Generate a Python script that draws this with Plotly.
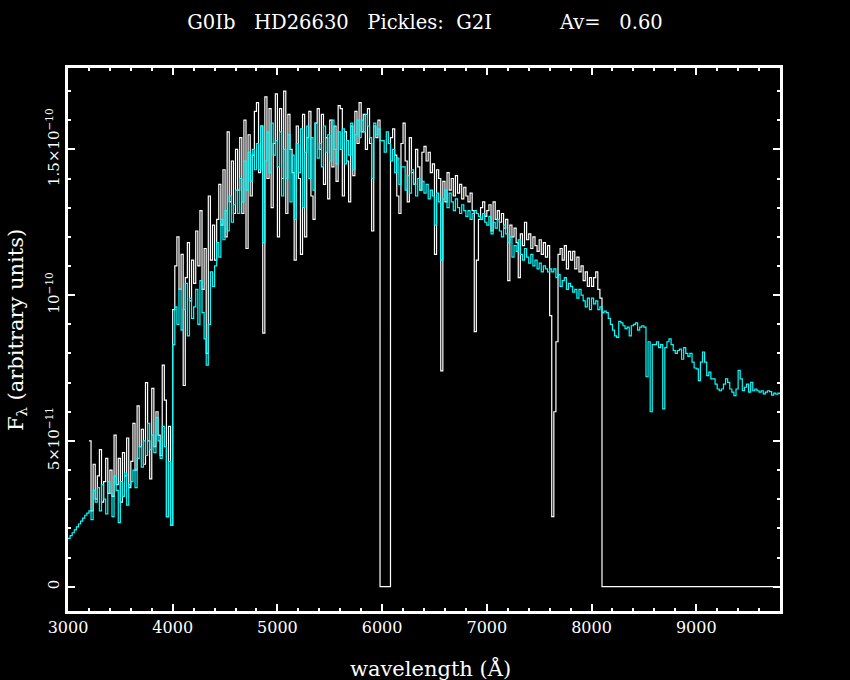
import numpy as np
import plotly.graph_objects as go

# ---------------- data (flux in units of 1e-11, arbitrary) ----------------
# Observed spectrum (white): sampled every 20 A from 3200 to 8080 A
obs_wl_start, obs_wl_stop, obs_wl_step = 3200, 8100, 20
obs_flux = [
    # 3200-3380
    5.0, 2.6, 4.2, 3.0, 3.8, 4.7, 2.9, 3.6, 4.4, 3.2,
    # 3400-3580
    4.0, 3.1, 5.2, 3.5, 4.4, 2.9, 4.6, 3.8, 5.1, 3.4,
    # 3600-3780
    4.3, 5.6, 4.0, 6.2, 4.8, 5.4, 4.2, 7.0, 5.0, 3.7,
    # 3800-3980
    6.8, 4.8, 6.0, 5.2, 4.5, 7.6, 6.4, 2.4, 5.5, 2.1,
    # 4000-4180
    9.5, 11.0, 12.0, 10.2, 11.4, 6.9, 10.6, 11.8, 9.8, 11.2,
    # 4200-4380
    10.4, 12.2, 11.0, 12.9, 10.2, 11.6, 8.0, 13.4, 11.2, 12.4,
    # 4400-4580
    11.2, 12.6, 13.8, 12.4, 14.3, 12.0, 15.6, 13.2, 14.6, 12.8,
    # 4600-4780
    15.0, 13.6, 15.4, 12.8, 16.0, 11.6, 15.5, 13.4, 14.8, 16.3,
    # 4800-4980
    16.6, 14.2, 15.8, 8.7, 16.8, 14.0, 16.4, 13.0, 15.2, 16.9,
    # 5000-5180
    12.0, 16.4, 14.0, 17.0, 12.8, 16.2, 15.0, 14.2, 11.2, 15.8,
    # 5200-5380
    14.0, 11.4, 16.2, 12.0, 15.4, 16.3, 13.4, 12.6, 15.9, 16.4,
    # 5400-5580
    15.0, 16.2, 13.8, 15.4, 13.3, 16.0, 14.4, 15.8, 13.9, 16.5,
    # 5600-5780
    16.4, 13.4, 15.6, 14.6, 13.2, 15.8, 14.1, 16.3, 15.2, 16.6,
    # 5800-5980
    15.6, 16.2, 15.0, 16.4, 15.2, 12.2, 15.8, 15.4, 16.0, 0.0,
    # 6000-6180
    0.0, 0.0, 0.0, 0.0, 15.4, 15.7, 14.8, 13.4, 12.8, 15.2,
    # 6200-6380
    15.9, 14.6, 13.2, 15.4, 14.2, 13.8, 15.0, 14.4, 13.6, 14.9,
    # 6400-6580
    15.1, 14.6, 14.9, 14.2, 14.5, 11.4, 14.3, 14.0, 7.4, 13.9,
    # 6600-6780
    13.2, 14.2, 13.6, 14.0, 13.4, 14.1, 13.5, 13.8, 13.3, 13.7,
    # 6800-6980
    13.4, 13.2, 13.5, 12.9, 8.75, 11.2, 12.6, 13.0, 13.2, 12.7,
    # 7000-7180
    12.9, 13.1, 12.2, 13.2, 12.6, 12.9, 12.5, 12.8, 12.3, 12.6,
    # 7200-7380
    10.5, 12.4, 12.0, 12.3, 11.8, 10.6, 12.1, 11.7, 12.5, 11.9,
    # 7400-7580
    12.1, 11.6, 12.0, 11.7, 11.5, 11.9, 11.4, 11.8, 11.3, 11.7,
    # 7600-7780
    9.3, 2.4, 6.0, 8.4, 11.4, 11.6, 11.2, 11.7, 10.9, 11.5,
    # 7800-7980
    11.2, 11.5, 10.9, 11.3, 10.8, 11.0, 10.5, 10.8, 10.3, 10.6,
    # 8000-8080
    10.3, 10.6, 10.8, 10.2, 9.9,
]
obs_tail_wl = [8100, 9800]
obs_tail_flux = [0.0, 0.0]

# Pickles G2I template (cyan): sampled every 20 A from 3000 to 9800 A
pk_wl_start, pk_wl_stop, pk_wl_step = 3000, 9820, 20
pk_flux = [
    # 3000-3180
    1.66, 1.75, 1.85, 1.95, 2.05, 2.15, 2.25, 2.35, 2.45, 2.52,
    # 3200-3380
    2.6, 2.3, 3.3, 2.9, 3.4, 2.6, 3.5, 3.0, 2.5, 3.6,
    # 3400-3580
    3.2, 2.4, 3.8, 3.3, 2.2, 3.6, 3.1, 3.9, 2.8, 3.5,
    # 3600-3780
    3.6, 4.0, 3.4, 4.4, 4.8, 4.1, 5.0, 4.5, 5.6, 4.7,
    # 3800-3980
    5.2, 4.6, 5.8, 5.0, 4.4, 5.5, 4.8, 2.4, 4.3, 2.1,
    # 4000-4180
    8.3, 9.6, 9.0, 10.2, 8.8, 9.5, 10.4, 8.6, 9.9, 9.2,
    # 4200-4380
    9.6, 10.2, 9.0, 10.5, 9.4, 8.5, 7.6, 9.0, 10.8, 10.3,
    # 4400-4580
    11.0, 11.8, 11.3, 12.6, 11.9, 12.9, 12.2, 13.4, 12.5, 13.1,
    # 4600-4780
    13.6, 12.8, 14.0, 13.2, 14.6, 13.6, 14.9, 13.9, 15.0, 14.3,
    # 4800-4980
    15.2, 14.3, 15.8, 11.8, 14.6, 15.6, 14.2, 15.9, 14.8, 15.3,
    # 5000-5180
    14.4, 15.6, 13.4, 15.0, 14.0, 15.5, 13.2, 14.8, 12.6, 15.2,
    # 5200-5380
    14.2, 15.7, 13.0, 14.9, 15.8, 14.0, 15.4, 13.6, 15.9, 14.7,
    # 5400-5580
    15.2, 14.4, 15.8, 14.9, 15.5, 14.6, 16.0, 15.0, 14.5, 15.6,
    # 5600-5780
    15.0, 15.7, 14.5, 15.3, 14.8, 15.9, 14.3, 15.5, 16.0, 15.4,
    # 5800-5980
    16.0, 15.6, 16.2, 15.8, 15.4, 14.0, 15.9, 15.5, 15.7, 15.3,
    # 6000-6180
    15.3, 14.9, 15.6, 15.2, 14.6, 15.0, 14.2, 14.7, 13.8, 14.4,
    # 6200-6380
    14.4, 13.6, 14.1, 13.5, 14.3, 13.8, 13.4, 14.0, 13.6, 13.9,
    # 6400-6580
    13.5, 13.8, 13.3, 13.6, 13.4, 12.4, 13.5, 13.2, 11.2, 13.3,
    # 6600-6780
    13.6, 13.0, 13.5, 13.2, 12.9, 13.3, 13.0, 12.8, 13.1, 12.9,
    # 6800-6980
    12.7, 12.9, 12.6, 12.8, 12.9, 12.8, 12.7, 12.6, 12.8, 12.5,
    # 7000-7180
    12.4, 12.7, 12.1, 12.5, 12.3, 12.6, 12.2, 12.0, 12.4, 12.1,
    # 7200-7380
    11.8, 12.0, 11.3, 11.7, 11.5, 11.9, 11.4, 11.2, 11.6, 11.3,
    # 7400-7580
    11.1, 11.4, 11.0, 11.2, 10.9, 11.1, 10.8, 11.0, 10.9, 10.8,
    # 7600-7780
    10.9, 10.8, 10.9, 10.6, 10.7, 10.3, 10.5, 10.6, 10.2, 10.4,
    # 7800-7980
    10.3, 10.1, 10.2, 9.9, 10.2, 10.0, 9.8, 9.6, 9.9, 9.5,
    # 8000-8180
    9.9, 9.7, 9.8, 9.5, 9.6, 9.4, 9.45, 9.4, 9.2, 9.0,
    # 8200-8380
    8.8, 8.6, 8.55, 9.1, 9.05, 8.95, 8.85, 8.9, 8.6, 8.95,
    # 8400-8580
    9.0, 9.05, 8.8, 8.9, 8.95, 8.9, 7.2, 8.4, 6.0, 8.3,
    # 8600-8780
    8.3, 8.4, 8.2, 8.3, 6.1, 8.2, 8.4, 8.5, 8.3, 8.1,
    # 8800-8980
    8.0, 8.1, 8.15, 7.8, 8.2, 8.0, 7.9, 8.0, 7.7, 7.5,
    # 9000-9180
    7.47, 7.07, 7.7, 8.05, 7.7, 7.24, 7.36, 7.13, 7.13, 6.95,
    # 9200-9380
    6.78, 6.72, 6.78, 6.95, 7.13, 7.01, 6.78, 6.67, 6.55, 6.78,
    # 9400-9580
    7.42, 7.13, 6.72, 6.84, 6.95, 6.67, 7.01, 6.72, 6.78, 6.72,
    # 9600-9780
    6.67, 6.72, 6.61, 6.67, 6.72, 6.69, 6.57, 6.64, 6.60, 6.64,
    # 9800
    6.6,
]

flux_unit = 1e-11

x_tick_vals = [3000, 4000, 5000, 6000, 7000, 8000, 9000]
y_tick_vals = [0, 5e-11, 1e-10, 1.5e-10]
y_tick_text = ["0", "5×10<sup>−11</sup>", "10<sup>−10</sup>", "1.5×10<sup>−10</sup>"]

title_text = ("G0Ib\u00a0\u00a0\u00a0HD26630\u00a0\u00a0\u00a0Pickles:\u00a0\u00a0G2I"
              + "\u00a0" * 11 + "Av=\u00a0\u00a0\u00a00.60")

# ---------------- figure ----------------
obs_wl = list(np.arange(obs_wl_start, obs_wl_stop, obs_wl_step)) + obs_tail_wl
obs_y = list(np.array(obs_flux + obs_tail_flux) * flux_unit)
pk_wl = list(np.arange(pk_wl_start, pk_wl_stop, pk_wl_step))
pk_y = list(np.array(pk_flux) * flux_unit)

fig = go.Figure()
fig.add_trace(go.Scatter(x=obs_wl, y=obs_y, mode="lines",
                         line=dict(color="#ffffff", width=1.2, shape="hv"),
                         name="HD26630", showlegend=False))
fig.add_trace(go.Scatter(x=pk_wl, y=pk_y, mode="lines",
                         line=dict(color="#00ffff", width=1.2, shape="hv"),
                         name="Pickles G2I", showlegend=False))

font_family = "DejaVu Serif"
axis_common = dict(
    showline=True, linecolor="white", linewidth=2.5, mirror="ticks",
    ticks="inside", tickcolor="white", tickwidth=2, ticklen=7,
    showgrid=False, zeroline=False,
)

fig.update_xaxes(range=[3000, 9800], tickmode="array", tickvals=x_tick_vals,
                 tickfont=dict(family=font_family, size=16, color="white"),
                 minor=dict(tickmode="linear", tick0=3000, dtick=200, ticks="inside",
                            ticklen=3.5, tickwidth=2, tickcolor="white"),
                 **axis_common)
fig.update_yaxes(range=[-0.834e-11, 17.79e-11], tickmode="array",
                 tickvals=y_tick_vals, ticktext=y_tick_text, tickangle=-90,
                 tickfont=dict(family=font_family, size=15, color="white"),
                 minor=dict(tickmode="linear", tick0=0, dtick=1e-11, ticks="inside",
                            ticklen=3.5, tickwidth=2, tickcolor="white"),
                 **axis_common)

fig.update_layout(
    width=850, height=680,
    paper_bgcolor="black", plot_bgcolor="black",
    margin=dict(l=68, r=70, t=68, b=69),
    font=dict(family=font_family, color="white"),
    title=dict(text=title_text, x=0.5, xref="container", xanchor="center",
               y=1 - 22 / 680, yref="container", yanchor="middle",
               font=dict(family=font_family, size=19.5, color="white")),
    annotations=[
        dict(text="wavelength (Å)", xref="paper", yref="paper",
             x=(430 - 68) / 712, y=(611 - 668) / 543, xanchor="center", yanchor="middle",
             showarrow=False, font=dict(family=font_family, size=21, color="white")),
        dict(text="F<sub>λ</sub> (arbitrary units)", xref="paper", yref="paper",
             x=(17 - 68) / 712, y=(611 - 330) / 543, xanchor="center", yanchor="middle",
             textangle=-90, showarrow=False,
             font=dict(family=font_family, size=21, color="white")),
    ],
)

fig.write_html(
    "out.html",
    config={"displayModeBar": False},
    post_script="document.body.style.margin='0';document.body.style.background='black';"
                "document.body.style.overflow='hidden';",
)
